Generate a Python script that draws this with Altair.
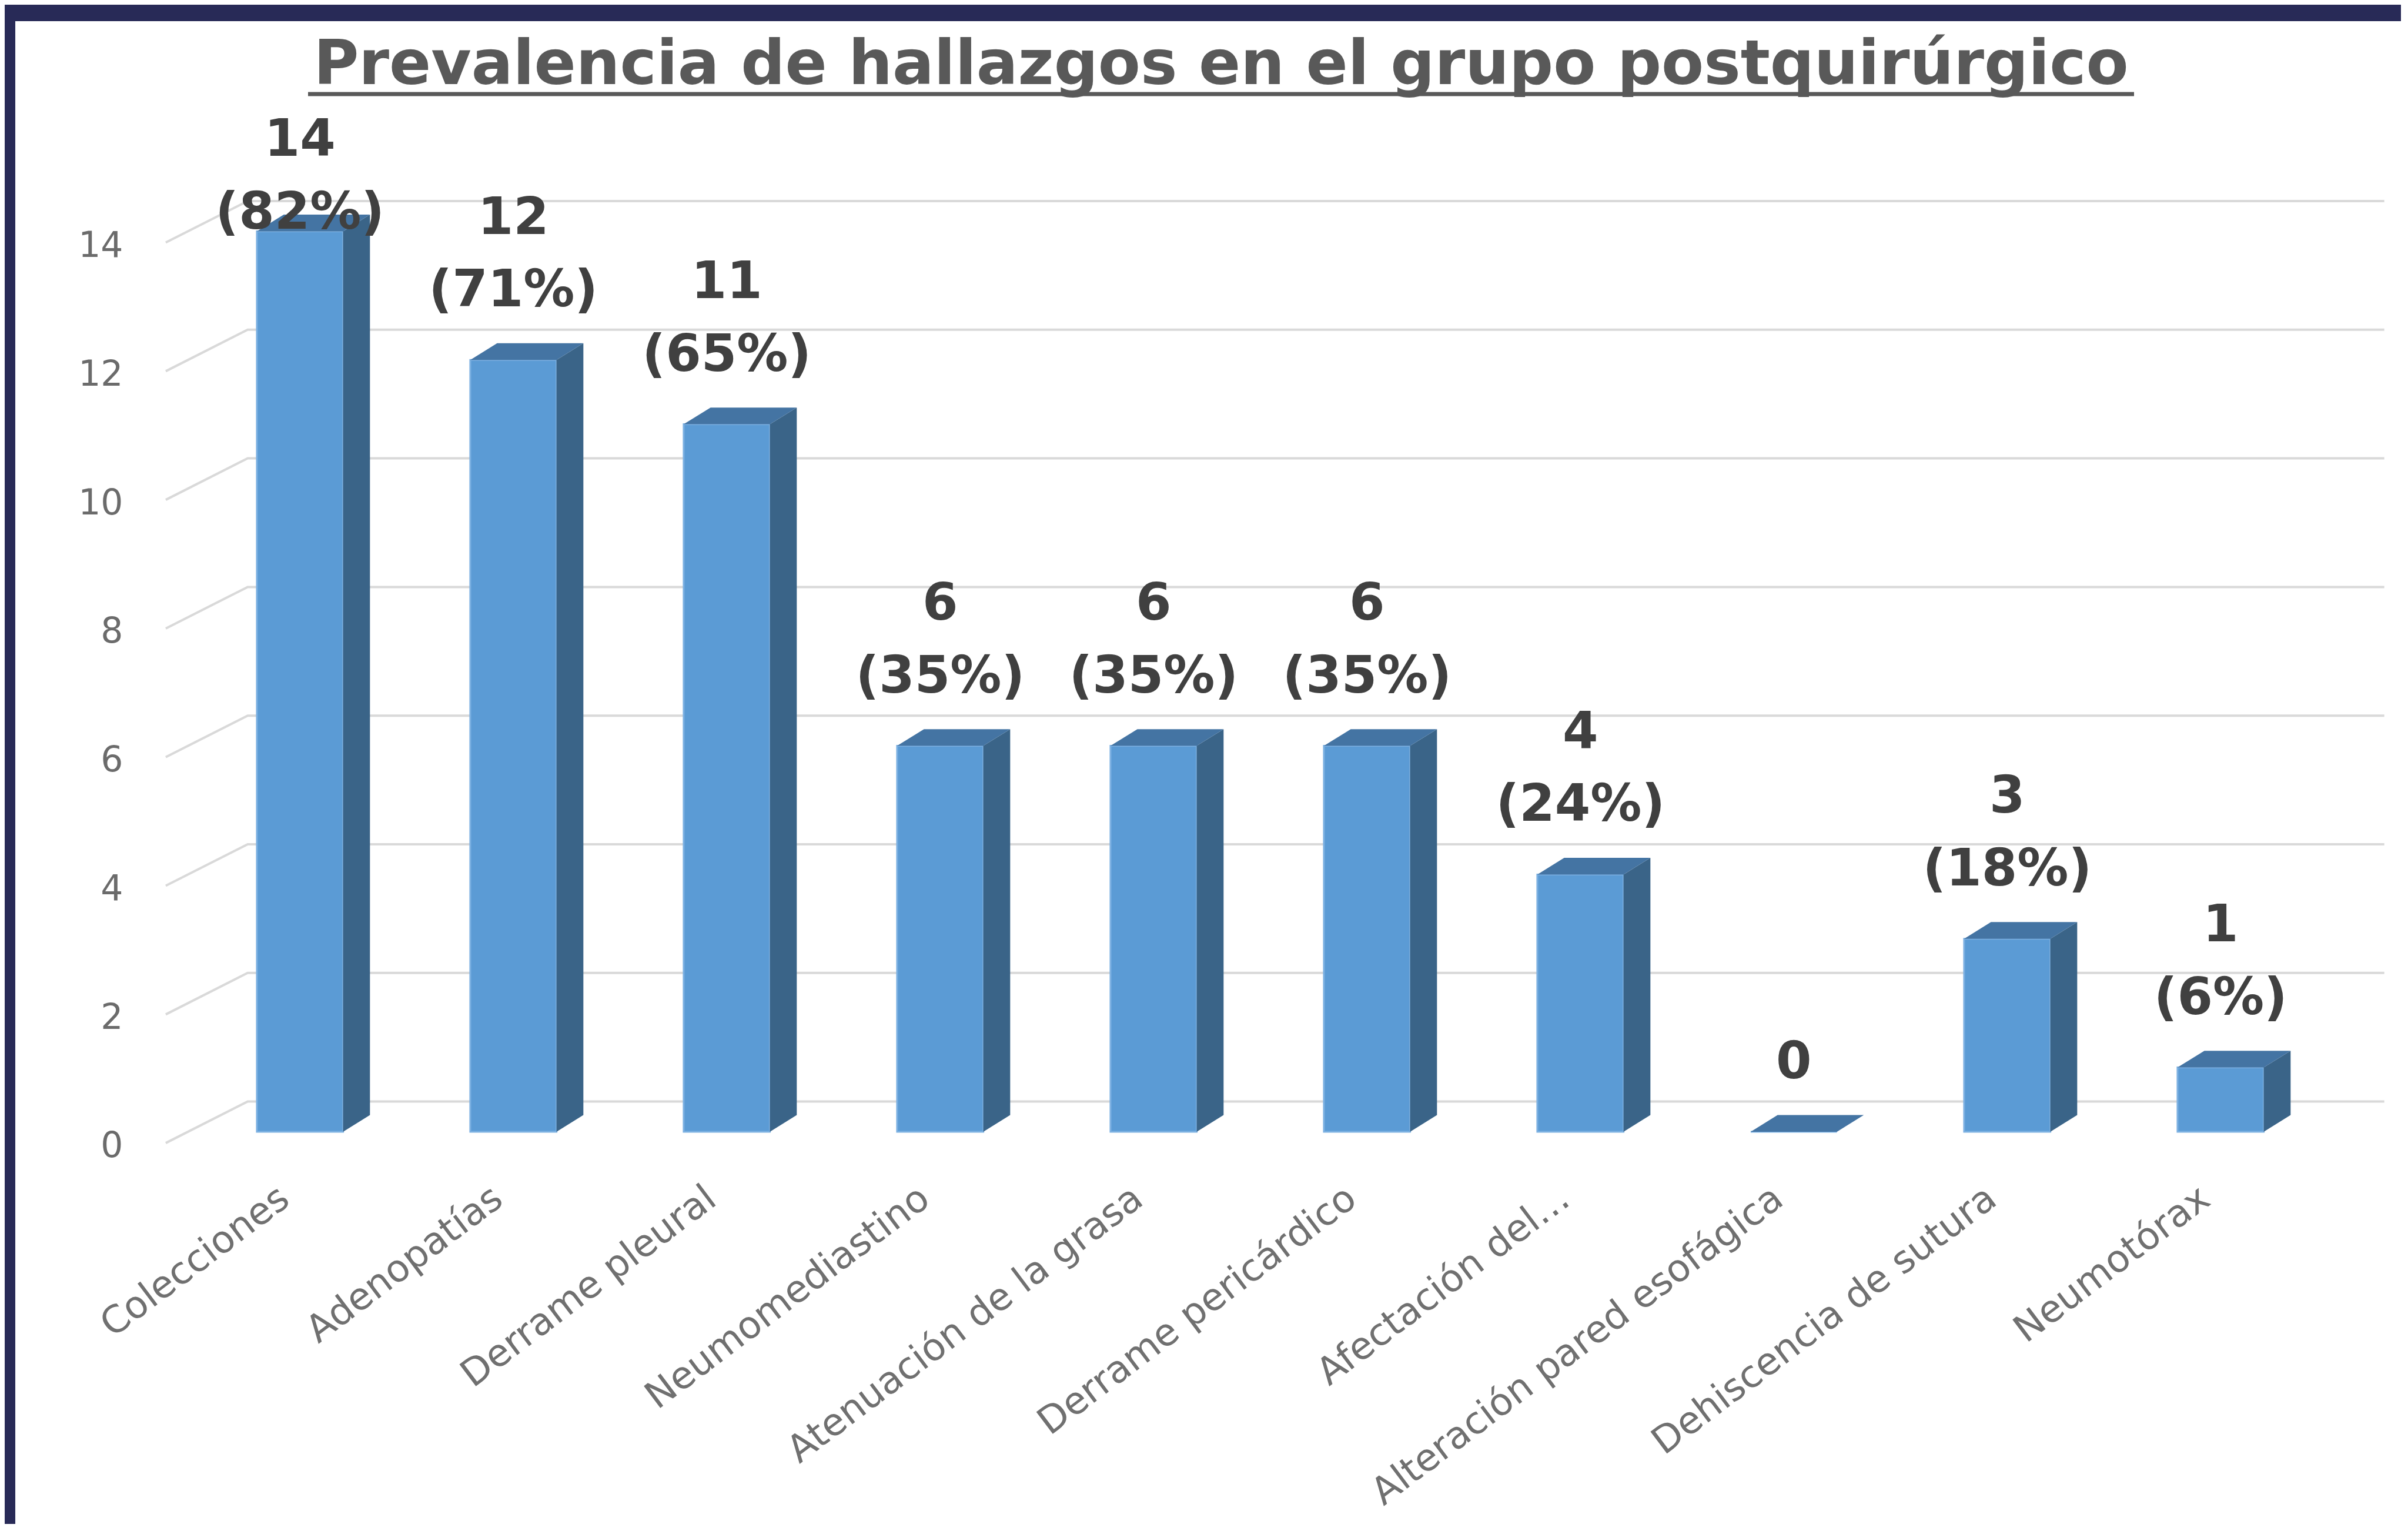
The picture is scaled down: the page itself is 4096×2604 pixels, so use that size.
import json
import pandas as pd
import altair as alt

# ---------------- data ----------------
categories = ["Colecciones", "Adenopatías", "Derrame pleural", "Neumomediastino",
              "Atenuación de la grasa", "Derrame pericárdico", "Afectación del…",
              "Alteración pared esofágica", "Dehiscencia de sutura", "Neumotórax"]
counts = [14, 12, 11, 6, 6, 6, 4, 0, 3, 1]
percents = [82, 71, 65, 35, 35, 35, 24, 0, 18, 6]
y_ticks = [0, 2, 4, 6, 8, 10, 12, 14]
title_text = "Prevalencia de hallazgos en el grupo postquirúrgico"

# ---------------- 3-D look (sizes in scale units) ----------------
HALF_W = 0.202      # half bar width (category units)
DEPTH_X = 0.126     # bar depth, horizontal
DEPTH_Y = 0.26      # bar depth, vertical (value units)
WALL_DY = 0.47      # back wall above bar front
FRONT_DY = -0.175   # front edge of side wall
WALL_X0 = -0.245
SIDE_X0 = -0.629
WALL_X1 = 9.767
LABEL_GAP = 1.07
LINE_GAP = 1.13
LABEL_CAP = 14.28

W, H = 4058, 2556
x_scale = alt.Scale(domain=[-1.334, 9.845], nice=False, zero=False)
y_scale = alt.Scale(domain=[-6.097, 17.267], nice=False, zero=False)

FRONT = "#5B9BD5"
FRONT_EDGE = "#7DB1E2"
SIDE = "#3A6488"
TOP = "#4474A3"
GRID = "#D9D9D9"
NAVY = "#282A57"
FONT = "DejaVu Sans"

idx = list(range(len(categories)))

# gridlines (side wall + back wall)
grid_rows = []
for t in y_ticks:
    grid_rows.append({"t": t, "k": 0, "x": SIDE_X0, "y": t + FRONT_DY})
    grid_rows.append({"t": t, "k": 1, "x": WALL_X0, "y": t + WALL_DY})
    grid_rows.append({"t": t, "k": 2, "x": WALL_X1, "y": t + WALL_DY})
grid_df = pd.DataFrame(grid_rows)

front_df = pd.DataFrame({"i": idx, "count": counts})
front_df["x0"] = front_df["i"] - HALF_W
front_df["x1"] = front_df["i"] + HALF_W
front_df["base"] = 0.0

side_rows, top_rows = [], []
for i, c in zip(idx, counts):
    side_rows.append({"i": i, "x": i + HALF_W, "lo": 0.0, "hi": c})
    side_rows.append({"i": i, "x": i + HALF_W + DEPTH_X, "lo": DEPTH_Y, "hi": c + DEPTH_Y})
    top_rows.append({"i": i, "y": c, "xl": i - HALF_W, "xr": i + HALF_W})
    top_rows.append({"i": i, "y": c + DEPTH_Y, "xl": i - HALF_W + DEPTH_X, "xr": i + HALF_W + DEPTH_X})
side_df = pd.DataFrame(side_rows)
top_df = pd.DataFrame(top_rows)

lab_df = pd.DataFrame({"i": idx, "count": counts, "pct": percents})
lab_df["line1"] = [str(c) if c > 0 else "" for c in counts]
lab_df["line2"] = [f"({p}%)" if c > 0 else "0" for c, p in zip(counts, percents)]
lab_df["y2"] = [min(c + LABEL_GAP, LABEL_CAP) for c in counts]
lab_df["y1"] = lab_df["y2"] + LINE_GAP

label_expr = json.dumps(categories, ensure_ascii=False) + "[datum.value]"

x_axis = alt.Axis(values=idx, labelExpr=label_expr, title=None, grid=False,
                  domain=False, ticks=False, labelPadding=0, offset=-561,
                  labelAngle=323, labelAlign="right", labelBaseline="middle",
                  labelOffset=-26, labelFont=FONT, labelFontSize=64,
                  labelColor="#707070", labelOverlap=False, labelFlush=False,
                  labelBound=False, labelLimit=2000)
y_axis = alt.Axis(values=y_ticks, format="d", title=None, grid=False,
                  domain=False, ticks=False, labelPadding=0, offset=-183,
                  labelOffset=25, labelFont=FONT, labelFontSize=60,
                  labelColor="#6B6B6B", labelOverlap=False, labelFlush=False,
                  labelBound=False)


def X(f):
    return alt.X(f, scale=x_scale, axis=x_axis)


def Y(f):
    return alt.Y(f, scale=y_scale, axis=y_axis)


grid = alt.Chart(grid_df).mark_line(color=GRID, strokeWidth=4).encode(
    x=X("x:Q"), y=Y("y:Q"), detail="t:N", order="k:Q")

front = alt.Chart(front_df).mark_rect(color=FRONT, stroke=FRONT_EDGE, strokeWidth=3).encode(
    x=X("x0:Q"), x2="x1:Q", y=Y("base:Q"), y2="count:Q")

side = alt.Chart(side_df).mark_area(color=SIDE, orient="vertical").encode(
    x=X("x:Q"), y=Y("hi:Q"), y2="lo:Q", detail="i:N")

top = alt.Chart(top_df).mark_area(color=TOP, orient="horizontal").encode(
    y=Y("y:Q"), x=X("xl:Q"), x2="xr:Q", detail="i:N")

lab1 = alt.Chart(lab_df).mark_text(font=FONT, fontSize=87, fontWeight="bold",
                                   color="#404040", baseline="middle").encode(
    x=X("i:Q"), y=Y("y1:Q"), text="line1:N")
lab2 = alt.Chart(lab_df).mark_text(font=FONT, fontSize=87, fontWeight="bold",
                                   color="#404040", baseline="middle").encode(
    x=X("i:Q"), y=Y("y2:Q"), text="line2:N")

title = alt.Chart(pd.DataFrame({"t": [title_text]})).mark_text(
    font=FONT, fontSize=105, fontWeight="bold", color="#595959",
    align="center", baseline="alphabetic").encode(
    x=alt.value(2051), y=alt.value(107), text="t:N")

underline = alt.Chart(pd.DataFrame({"a": [0]})).mark_rule(
    color="#595959", strokeWidth=7).encode(
    x=alt.value(498), x2=alt.value(3604), y=alt.value(124))

chart = alt.layer(grid, front, side, top, lab1, lab2, title, underline).properties(
    width=W, height=H,
    autosize=alt.AutoSizeParams(type="none"),
    padding={"left": 18, "top": 28, "right": 0, "bottom": 0},
    background=NAVY,
).configure_view(fill="white", strokeWidth=0)

chart.save("out.html", embed_options={"renderer": "svg", "actions": False})
